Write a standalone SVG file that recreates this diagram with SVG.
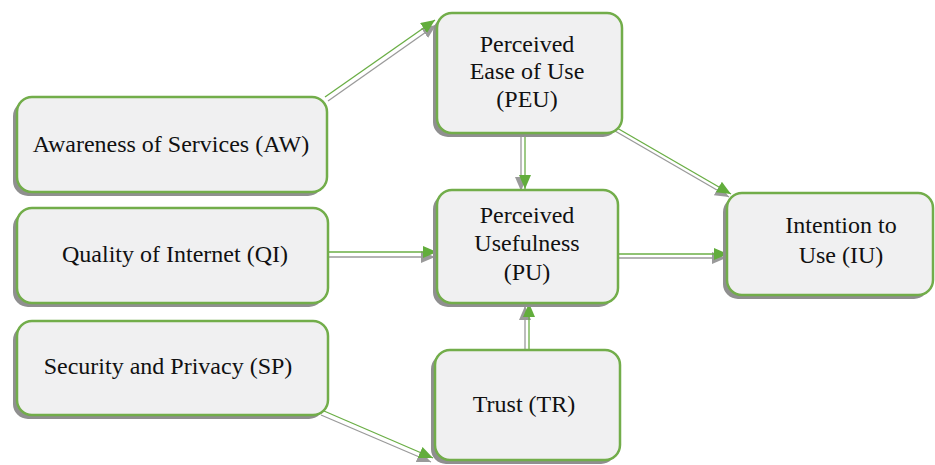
<svg xmlns="http://www.w3.org/2000/svg" width="935" height="465" viewBox="0 0 935 465">
<defs>
<style>
.sh{fill:#8f8f8f}
.bx{fill:#f0f0f1;stroke:#72ad4a;stroke-width:2.5}
.t{font-family:"Liberation Serif","Times New Roman",serif;font-size:24px;fill:#111;text-anchor:middle}
.g{stroke:#6aae45;stroke-width:1.3;fill:none}
.k{stroke:#9a9a9a;stroke-width:1.3;fill:none}
</style>
<marker id="ag" markerUnits="userSpaceOnUse" markerWidth="16" markerHeight="14" refX="14" refY="6" orient="auto"><path d="M0,0 L14,6 L0,12 Z" fill="#62ad3c"/></marker>
<marker id="ak" markerUnits="userSpaceOnUse" markerWidth="16" markerHeight="14" refX="14" refY="6" orient="auto"><path d="M0,0 L14,6 L0,12 Z" fill="#9a9a9a"/></marker>
</defs>
<rect width="935" height="465" fill="#fff"/>

<g id="connectors">
<line class="k" x1="328" y1="101" x2="436" y2="25" marker-end="url(#ak)"/>
<line class="g" x1="325" y1="97" x2="435" y2="20" marker-end="url(#ag)"/>
<line class="k" x1="521" y1="135" x2="521" y2="191" marker-end="url(#ak)"/>
<line class="g" x1="525" y1="135" x2="525" y2="189" marker-end="url(#ag)"/>
<line class="k" x1="615" y1="131" x2="729" y2="197" marker-end="url(#ak)"/>
<line class="g" x1="617" y1="128" x2="731" y2="194" marker-end="url(#ag)"/>
<line class="k" x1="321" y1="257" x2="435" y2="257" marker-end="url(#ak)"/>
<line class="g" x1="323" y1="252" x2="437" y2="252" marker-end="url(#ag)"/>
<line class="k" x1="613" y1="258" x2="726" y2="258" marker-end="url(#ak)"/>
<line class="g" x1="615" y1="254" x2="728" y2="254" marker-end="url(#ag)"/>
<line class="k" x1="525" y1="351" x2="525" y2="306" marker-end="url(#ak)"/>
<line class="g" x1="529" y1="350" x2="529" y2="303" marker-end="url(#ag)"/>
<line class="k" x1="321" y1="415" x2="431" y2="462" marker-end="url(#ak)"/>
<line class="g" x1="324" y1="411" x2="433" y2="458" marker-end="url(#ag)"/>
</g>

<g id="AW">
<rect class="sh" x="13" y="101" width="310" height="95" rx="15"/>
<rect class="bx" x="17" y="97" width="310" height="95" rx="15"/>
<text class="t" x="171" y="152">Awareness of Services (AW)</text>
</g>
<g id="QI">
<rect class="sh" x="13" y="212" width="311" height="95" rx="15"/>
<rect class="bx" x="17" y="208" width="311" height="95" rx="15"/>
<text class="t" x="175" y="262">Quality of Internet (QI)</text>
</g>
<g id="SP">
<rect class="sh" x="13" y="325" width="311" height="94" rx="15"/>
<rect class="bx" x="17" y="321" width="311" height="94" rx="15"/>
<text class="t" x="168" y="374">Security and Privacy (SP)</text>
</g>
<g id="PEU">
<rect class="sh" x="433" y="17" width="185" height="120" rx="15"/>
<rect class="bx" x="437" y="13" width="185" height="120" rx="15"/>
<text class="t" x="527" y="52">Perceived</text>
<text class="t" x="527" y="79">Ease of Use</text>
<text class="t" x="527" y="107">(PEU)</text>
</g>
<g id="PU">
<rect class="sh" x="433" y="194" width="181" height="113" rx="15"/>
<rect class="bx" x="437" y="190" width="181" height="113" rx="15"/>
<text class="t" x="527" y="223">Perceived</text>
<text class="t" x="527" y="251">Usefulness</text>
<text class="t" x="527" y="280">(PU)</text>
</g>
<g id="TR">
<rect class="sh" x="431" y="354" width="185" height="110" rx="15"/>
<rect class="bx" x="435" y="350" width="185" height="110" rx="15"/>
<text class="t" x="524" y="412">Trust (TR)</text>
</g>
<g id="IU">
<rect class="sh" x="723" y="197" width="206" height="102" rx="15"/>
<rect class="bx" x="727" y="193" width="206" height="102" rx="15"/>
<text class="t" x="841" y="233">Intention to</text>
<text class="t" x="841" y="263">Use (IU)</text>
</g>
</svg>
